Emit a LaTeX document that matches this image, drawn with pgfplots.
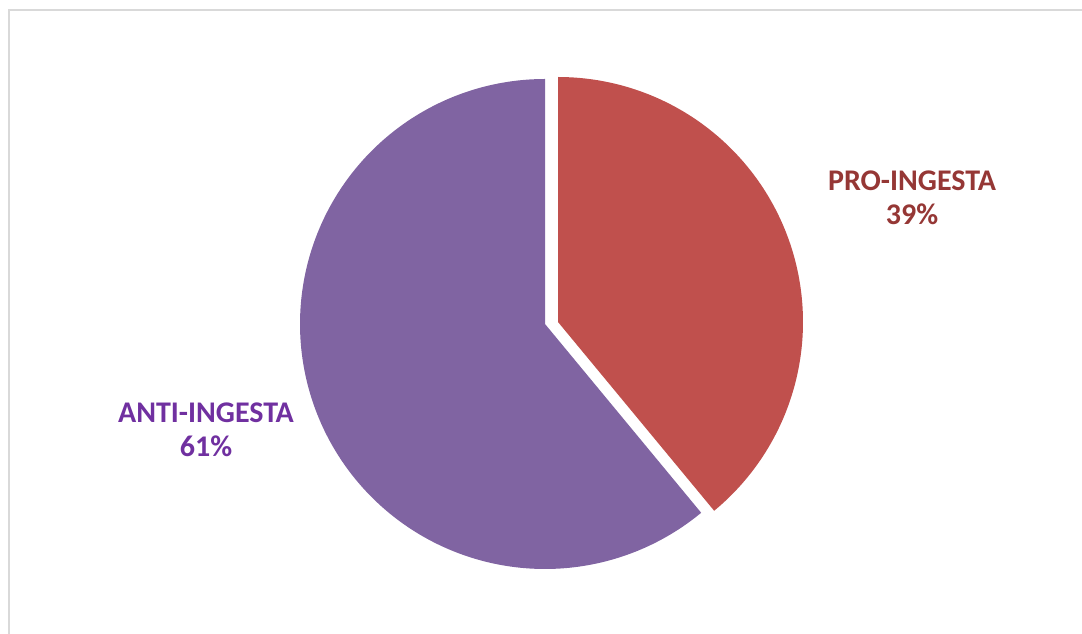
\documentclass[border=0pt]{standalone}
\usepackage{pgfplots}
\usepackage{pgfplotstable}
\pgfplotsset{compat=1.18}
\usepackage{fontspec}
\setmainfont{Carlito}
\definecolor{proC}{HTML}{C0504D}
\definecolor{antiC}{HTML}{8064A2}
\definecolor{proT}{HTML}{953735}
\definecolor{antiT}{HTML}{7030A0}
\definecolor{frameC}{HTML}{D9D9D9}
\pgfplotstableread{
label value
PRO-INGESTA 39
ANTI-INGESTA 61
}\piedata
\begin{document}
\begin{tikzpicture}
\pgfplotstablegetelem{0}{value}\of\piedata \let\pro\pgfplotsretval
\pgfplotstablegetelem{1}{value}\of\piedata \let\anti\pgfplotsretval
\pgfmathsetmacro{\proend}{90-3.6*\pro}
\pgfmathsetmacro{\antiend}{90+3.6*\anti}
\begin{axis}[
  scale only axis, width=1082pt, height=634pt,
  xmin=0, xmax=1082, ymin=0, ymax=634,
  hide axis, clip=false,
]
% frame
\draw[frameC, line width=1.5pt] (axis cs:9,0) -- (axis cs:9,624) -- (axis cs:1082,624);
% PRO-INGESTA slice (exploded)
\addplot[draw=none, fill=proC, domain=\proend:90, samples=200, variable=\t]
  ({558+245*cos(\t)}, {312+245*sin(\t)}) -- (axis cs:558,312) -- cycle;
% ANTI-INGESTA slice
\addplot[draw=none, fill=antiC, domain=90:\antiend, samples=300, variable=\t]
  ({545+245*cos(\t)}, {310+245*sin(\t)}) -- (axis cs:545,310) -- cycle;
\node[align=center, text=proT, font=\bfseries\fontsize{30}{34}\selectfont]
  at (axis cs:912,436) {PRO-INGESTA\\39\%};
\node[align=center, text=antiT, font=\bfseries\fontsize{30}{34}\selectfont]
  at (axis cs:206,204) {ANTI-INGESTA\\61\%};
\end{axis}
\pgfresetboundingbox
\path[use as bounding box] (0,0) rectangle (1082pt,634pt);
\end{tikzpicture}
\end{document}
